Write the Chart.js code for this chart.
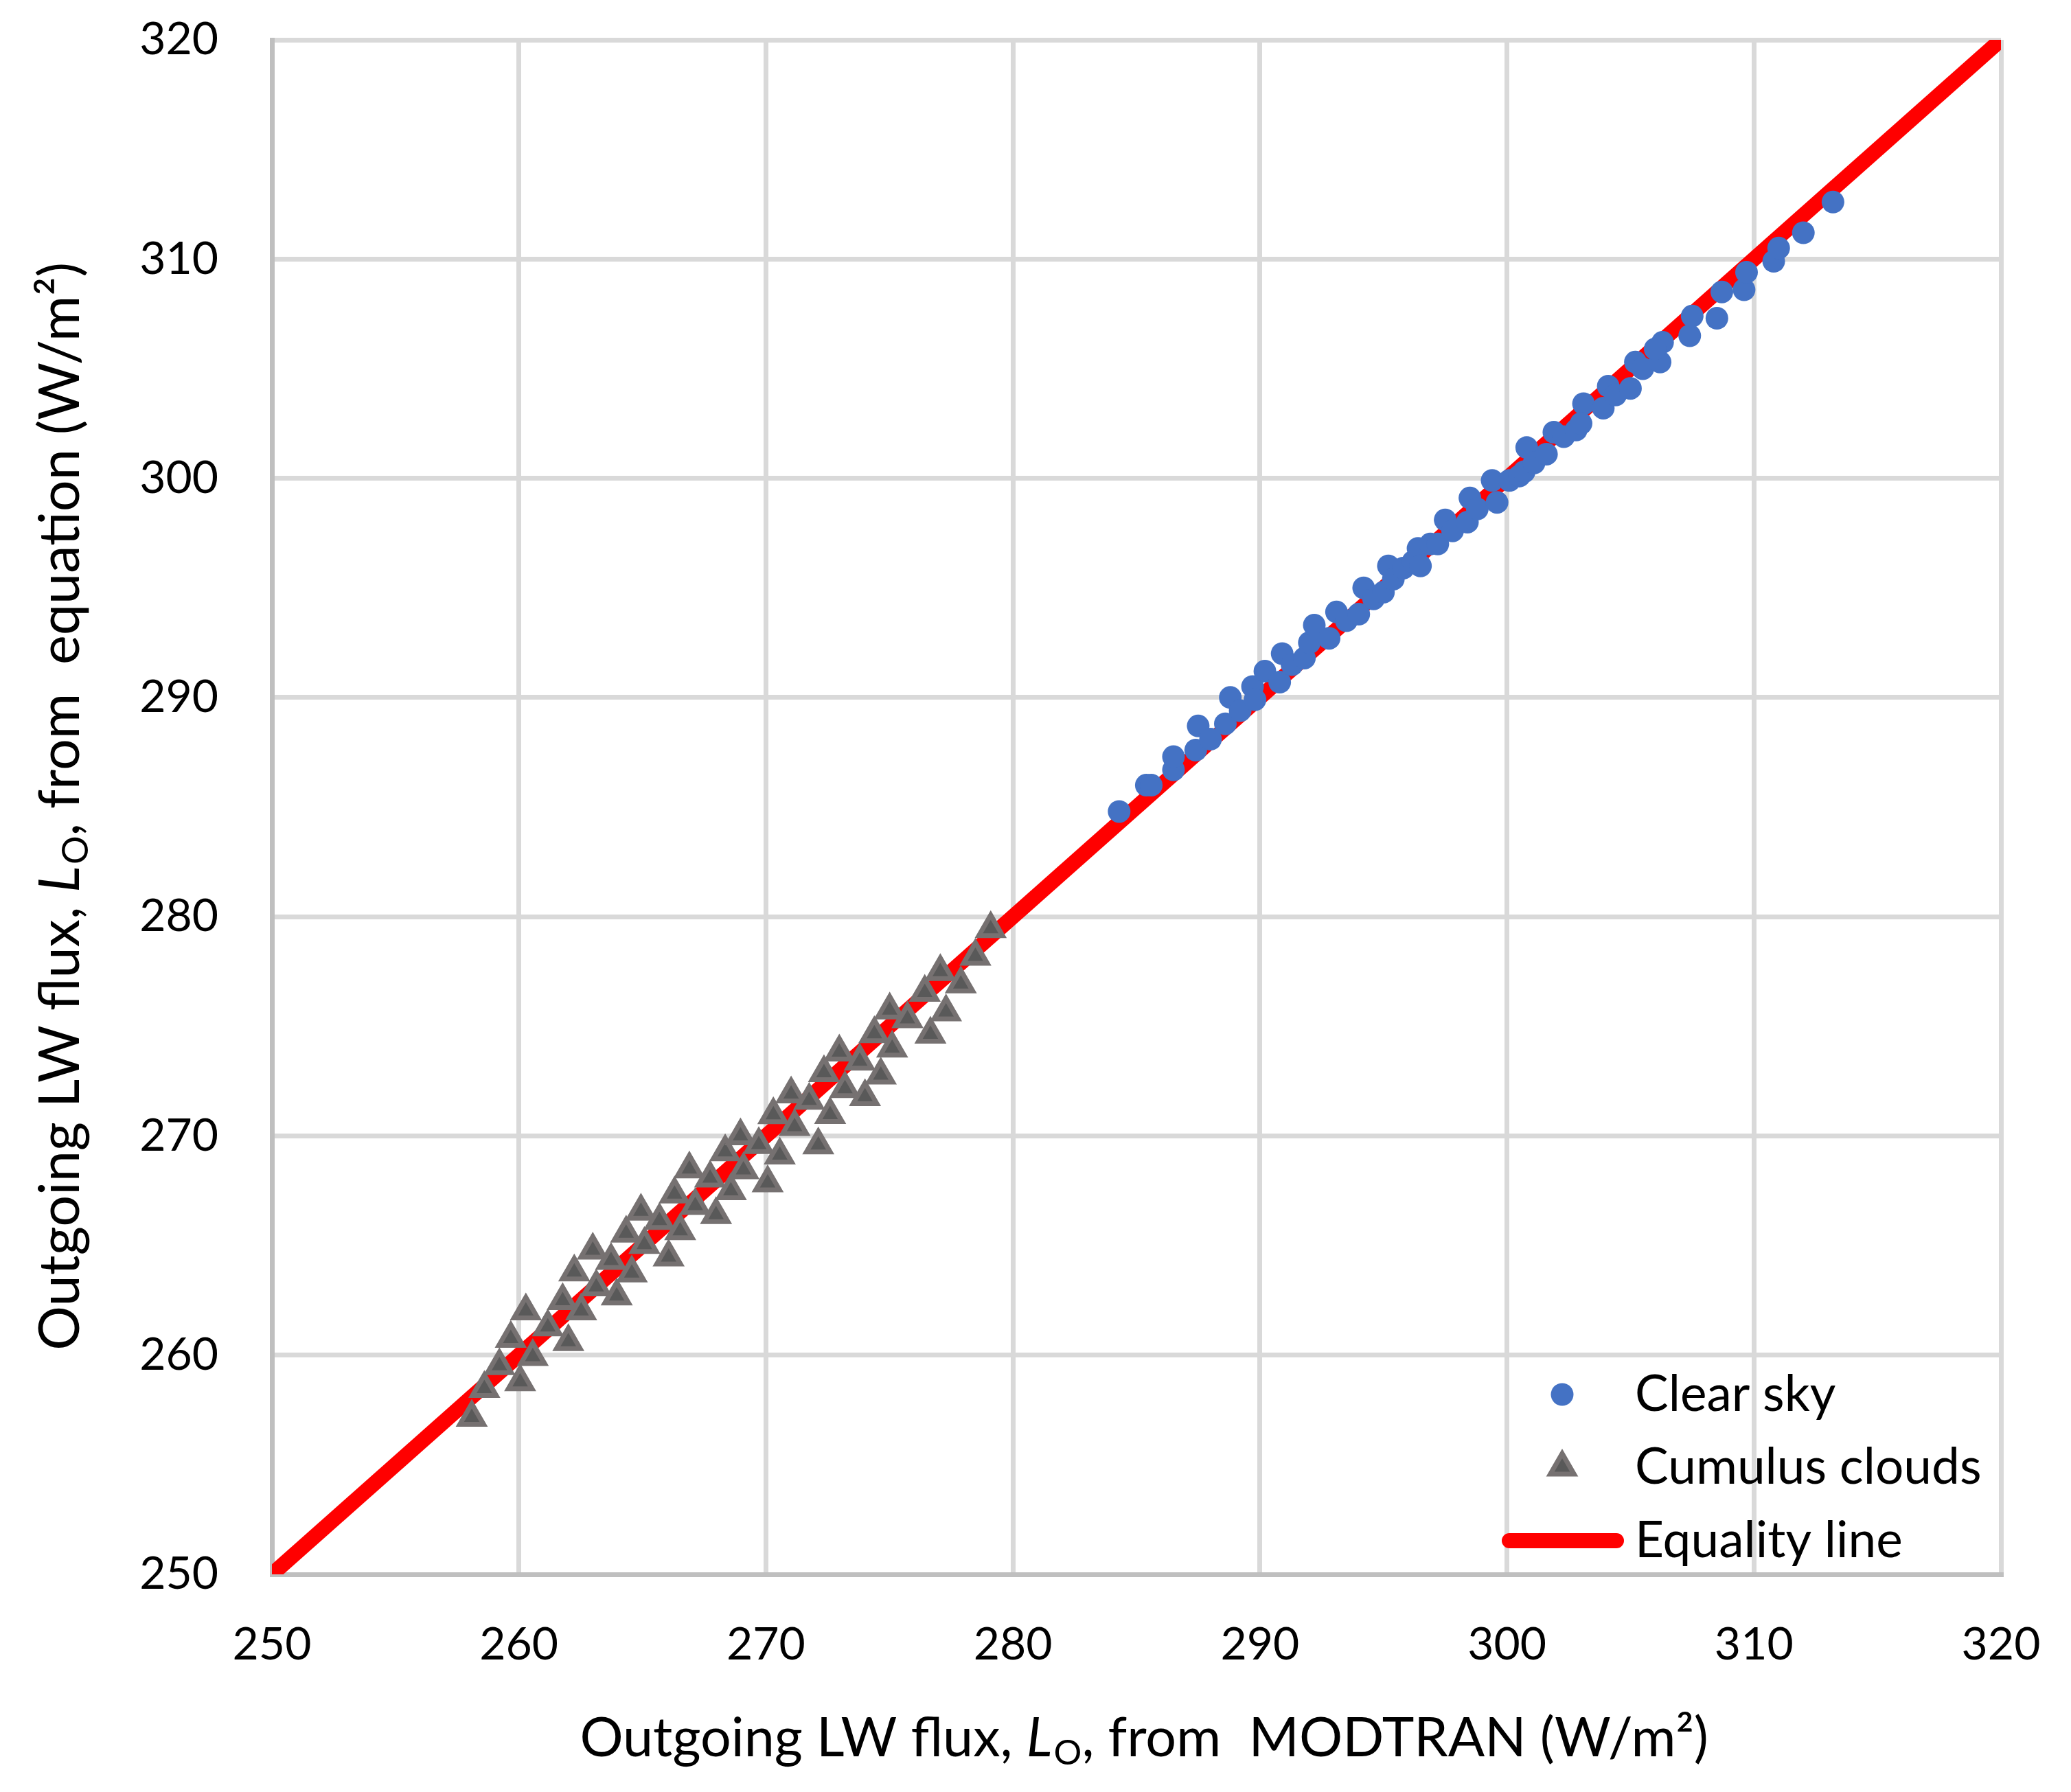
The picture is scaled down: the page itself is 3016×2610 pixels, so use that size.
<!DOCTYPE html>
<html>
<head>
<meta charset="utf-8">
<script src="https://cdn.jsdelivr.net/npm/chart.js@4.4.0/dist/chart.umd.min.js"></script>
<style>
html,body{margin:0;padding:0;background:#ffffff;}
#wrap{width:3016px;height:2610px;position:relative;background:#ffffff;}
</style>
</head>
<body>
<div id="wrap"><canvas id="c" width="3016" height="2610"></canvas></div>
<script>
// ---- data (W/m^2) ----
const clearSkyModtran = [284.3,285.4,285.6,286.5,286.5,287.4,287.5,288.0,288.6,288.8,289.2,289.7,289.8,290.2,290.8,290.9,291.3,291.8,292.0,292.2,292.8,293.1,293.5,294.0,294.2,294.6,295.0,295.2,295.4,295.8,296.2,296.4,296.5,296.9,297.2,297.5,297.8,298.4,298.5,298.8,299.4,299.6,300.1,300.5,300.7,300.8,301.1,301.6,301.9,302.3,302.8,303.1,303.0,303.9,304.1,304.4,305.0,305.2,305.5,306.2,306.3,306.0,307.4,307.5,308.5,308.7,309.6,309.7,310.8,311.0,312.0,313.2];
const clearSkyEquation = [284.8,286.0,286.0,286.7,287.3,287.6,288.7,288.1,288.8,290.0,289.4,290.5,289.9,291.2,290.7,292.0,291.5,291.8,292.5,293.3,292.7,293.9,293.5,293.8,295.0,294.5,294.8,296.0,295.4,295.9,296.2,296.8,296.0,297.0,297.0,298.1,297.6,298.0,299.1,298.6,299.9,298.9,299.9,300.1,300.3,301.4,300.7,301.1,302.1,301.9,302.2,303.4,302.5,303.2,304.2,303.8,304.1,305.3,305.0,305.3,306.2,305.9,306.5,307.4,307.3,308.5,308.6,309.4,309.9,310.5,311.2,312.6];
const cumulusModtran = [258.09,258.60,259.21,259.67,260.05,260.28,260.56,261.17,261.77,262.00,262.24,262.52,262.99,263.13,263.73,263.96,264.34,264.57,264.94,265.08,265.69,266.06,266.30,266.53,266.90,267.14,267.74,267.98,268.35,268.58,269.09,268.97,269.71,270.07,270.30,270.56,271.02,271.16,271.75,272.12,272.35,272.60,272.97,273.20,273.80,274.01,274.39,274.65,275.01,275.11,275.73,276.43,276.66,277.06,277.29,277.89,278.48,279.10];
const cumulusEquation = [257.16,258.47,259.51,260.76,258.78,262.01,259.93,261.28,262.48,260.61,263.79,262.01,264.78,263.11,264.31,262.69,265.56,263.74,266.56,265.04,266.14,264.47,267.34,265.67,268.49,266.82,268.07,266.40,269.27,267.49,268.45,270.00,269.60,267.85,270.96,269.12,271.91,270.42,271.62,269.58,272.88,270.97,273.82,272.15,273.40,271.78,274.66,272.77,275.74,274.00,275.34,276.54,274.63,277.49,275.65,276.93,278.19,279.45];
const equalityModtran = [250, 320];
const equalityEquation = [250, 320];
const axisMin = 250, axisMax = 320, axisStep = 10;
const seriesNames = ['Clear sky', 'Cumulus clouds', 'Equality line'];
const xTitleParts = [['Outgoing LW flux, ', ''], ['L', 'i'], ['O', 's'], [', from  MODTRAN (W/m\u00B2)', '']];
const yTitleParts = [['Outgoing LW flux, ', ''], ['L', 'i'], ['O', 's'], [', from  equation (W/m\u00B2)', '']];

const toPts = (xs, ys) => xs.map((x, i) => ({x: x, y: ys[i]}));

const FONT = 'Lato';
const TICK_SIZE = 66;
const X_TITLE_SIZE = 79;
const Y_TITLE_SIZE = 81;
const LEGEND_SIZE = 73;
const W = 3016, H = 2610;
const AREA = { left: 396, top: 58, right: 2914, bottom: 2293 };

function drawRich(ctx, parts, cx, cy, size) {
  const fontFor = (p) => (p[1] === 'i' ? 'italic ' : '') + (p[1] === 's' ? Math.round(size * 0.64) : size) + 'px ' + FONT;
  let total = 0;
  const widths = parts.map(p => { ctx.font = fontFor(p); const w = ctx.measureText(p[0]).width; total += w; return w; });
  let x = cx - total / 2;
  ctx.textBaseline = 'alphabetic';
  ctx.textAlign = 'left';
  ctx.fillStyle = '#000000';
  const base = cy + size * 0.35;
  parts.forEach((p, i) => {
    ctx.font = fontFor(p);
    ctx.fillText(p[0], x, p[1] === 's' ? base + size * 0.16 : base);
    x += widths[i] + (p[1] === 'i' ? size * 0.03 : 0);
  });
}

// pin the plot area to the reference's position
const areaPlugin = {
  id: 'pinArea',
  afterLayout(chart) {
    const a = chart.chartArea;
    a.left = AREA.left; a.top = AREA.top; a.right = AREA.right; a.bottom = AREA.bottom;
    a.width = AREA.right - AREA.left; a.height = AREA.bottom - AREA.top;
    const x = chart.scales.x, y = chart.scales.y;
    x.left = AREA.left; x.right = AREA.right; x.width = a.width;
    x.top = AREA.bottom; x.bottom = H; x.height = H - AREA.bottom;
    y.left = 0; y.right = AREA.left; y.width = AREA.left;
    y.top = AREA.top; y.bottom = AREA.bottom; y.height = a.height;
    x.configure(); y.configure();
  }
};

const titlePlugin = {
  id: 'richTitles',
  afterDraw(chart) {
    const ctx = chart.ctx;
    const a = chart.chartArea;
    ctx.save();
    drawRich(ctx, xTitleParts, (a.left + a.right) / 2 + 10, 2530, X_TITLE_SIZE);
    ctx.translate(87, (a.top + a.bottom) / 2);
    ctx.rotate(-Math.PI / 2);
    drawRich(ctx, yTitleParts, 0, 0, Y_TITLE_SIZE);
    ctx.restore();
  }
};

const legendPlugin = {
  id: 'innerLegend',
  afterDraw(chart) {
    const ctx = chart.ctx;
    const a = chart.chartArea;
    const ds = chart.data.datasets;
    const mx = a.right - 639, tx = a.right - 533;
    const rows = [a.bottom - 262, a.bottom - 156, a.bottom - 49];
    ctx.save();
    ctx.fillStyle = ds[0].backgroundColor;
    ctx.beginPath(); ctx.arc(mx, rows[0], ds[0].pointRadius, 0, Math.PI * 2); ctx.fill();
    const r = ds[1].pointRadius;
    ctx.beginPath();
    ctx.moveTo(mx, rows[1] - r);
    ctx.lineTo(mx + r * Math.sin(2 * Math.PI / 3), rows[1] + r / 2);
    ctx.lineTo(mx - r * Math.sin(2 * Math.PI / 3), rows[1] + r / 2);
    ctx.closePath();
    ctx.fillStyle = ds[1].backgroundColor; ctx.fill();
    ctx.lineWidth = ds[1].borderWidth; ctx.strokeStyle = ds[1].borderColor; ctx.stroke();
    ctx.beginPath(); ctx.lineCap = 'round';
    ctx.moveTo(a.right - 716, rows[2]); ctx.lineTo(a.right - 560, rows[2]);
    ctx.lineWidth = 22; ctx.strokeStyle = ds[2].borderColor; ctx.stroke();
    ctx.fillStyle = '#000000';
    ctx.font = LEGEND_SIZE + 'px ' + FONT;
    ctx.textAlign = 'left'; ctx.textBaseline = 'middle';
    seriesNames.forEach((n, i) => ctx.fillText(n, tx, rows[i]));
    ctx.restore();
  }
};

const gridColor = (c) => (c.tick && c.tick.value === axisMin) ? '#bfbfbf' : '#d9d9d9';

new Chart(document.getElementById('c'), {
  type: 'scatter',
  data: {
    datasets: [
      { label: seriesNames[0], data: toPts(clearSkyModtran, clearSkyEquation), pointStyle: 'circle',
        backgroundColor: '#4472c4', borderColor: '#4472c4', borderWidth: 0, pointRadius: 16.5, order: 1 },
      { label: seriesNames[1], data: toPts(cumulusModtran, cumulusEquation), pointStyle: 'triangle',
        backgroundColor: '#595959', borderColor: '#767171', borderWidth: 7, pointRadius: 20, order: 2 },
      { label: seriesNames[2], type: 'line', data: toPts(equalityModtran, equalityEquation), showLine: true,
        borderColor: '#ff0000', backgroundColor: '#ff0000', borderWidth: 22, pointRadius: 0, fill: false,
        tension: 0, clip: 0, order: 3 }
    ]
  },
  options: {
    responsive: false, animation: false, devicePixelRatio: 1,
    layout: { autoPadding: false, padding: { left: 0, top: 58, right: 102, bottom: 0 } },
    plugins: { legend: { display: false }, tooltip: { enabled: false }, title: { display: false } },
    scales: {
      x: {
        type: 'linear', min: axisMin, max: axisMax,
        ticks: { stepSize: axisStep, color: '#000000', font: { family: FONT, size: TICK_SIZE }, padding: 63, maxRotation: 0 },
        grid: { color: gridColor, lineWidth: 7, drawTicks: false },
        border: { color: '#bfbfbf', width: 7 },
        afterFit: (s) => { s.height = H - AREA.bottom; }
      },
      y: {
        type: 'linear', min: axisMin, max: axisMax,
        ticks: { stepSize: axisStep, color: '#000000', font: { family: FONT, size: TICK_SIZE }, padding: 78 },
        grid: { color: gridColor, lineWidth: 7, drawTicks: false },
        border: { color: '#bfbfbf', width: 7 },
        afterFit: (s) => { s.width = AREA.left; }
      }
    }
  },
  plugins: [areaPlugin, titlePlugin, legendPlugin]
});
</script>
</body>
</html>
